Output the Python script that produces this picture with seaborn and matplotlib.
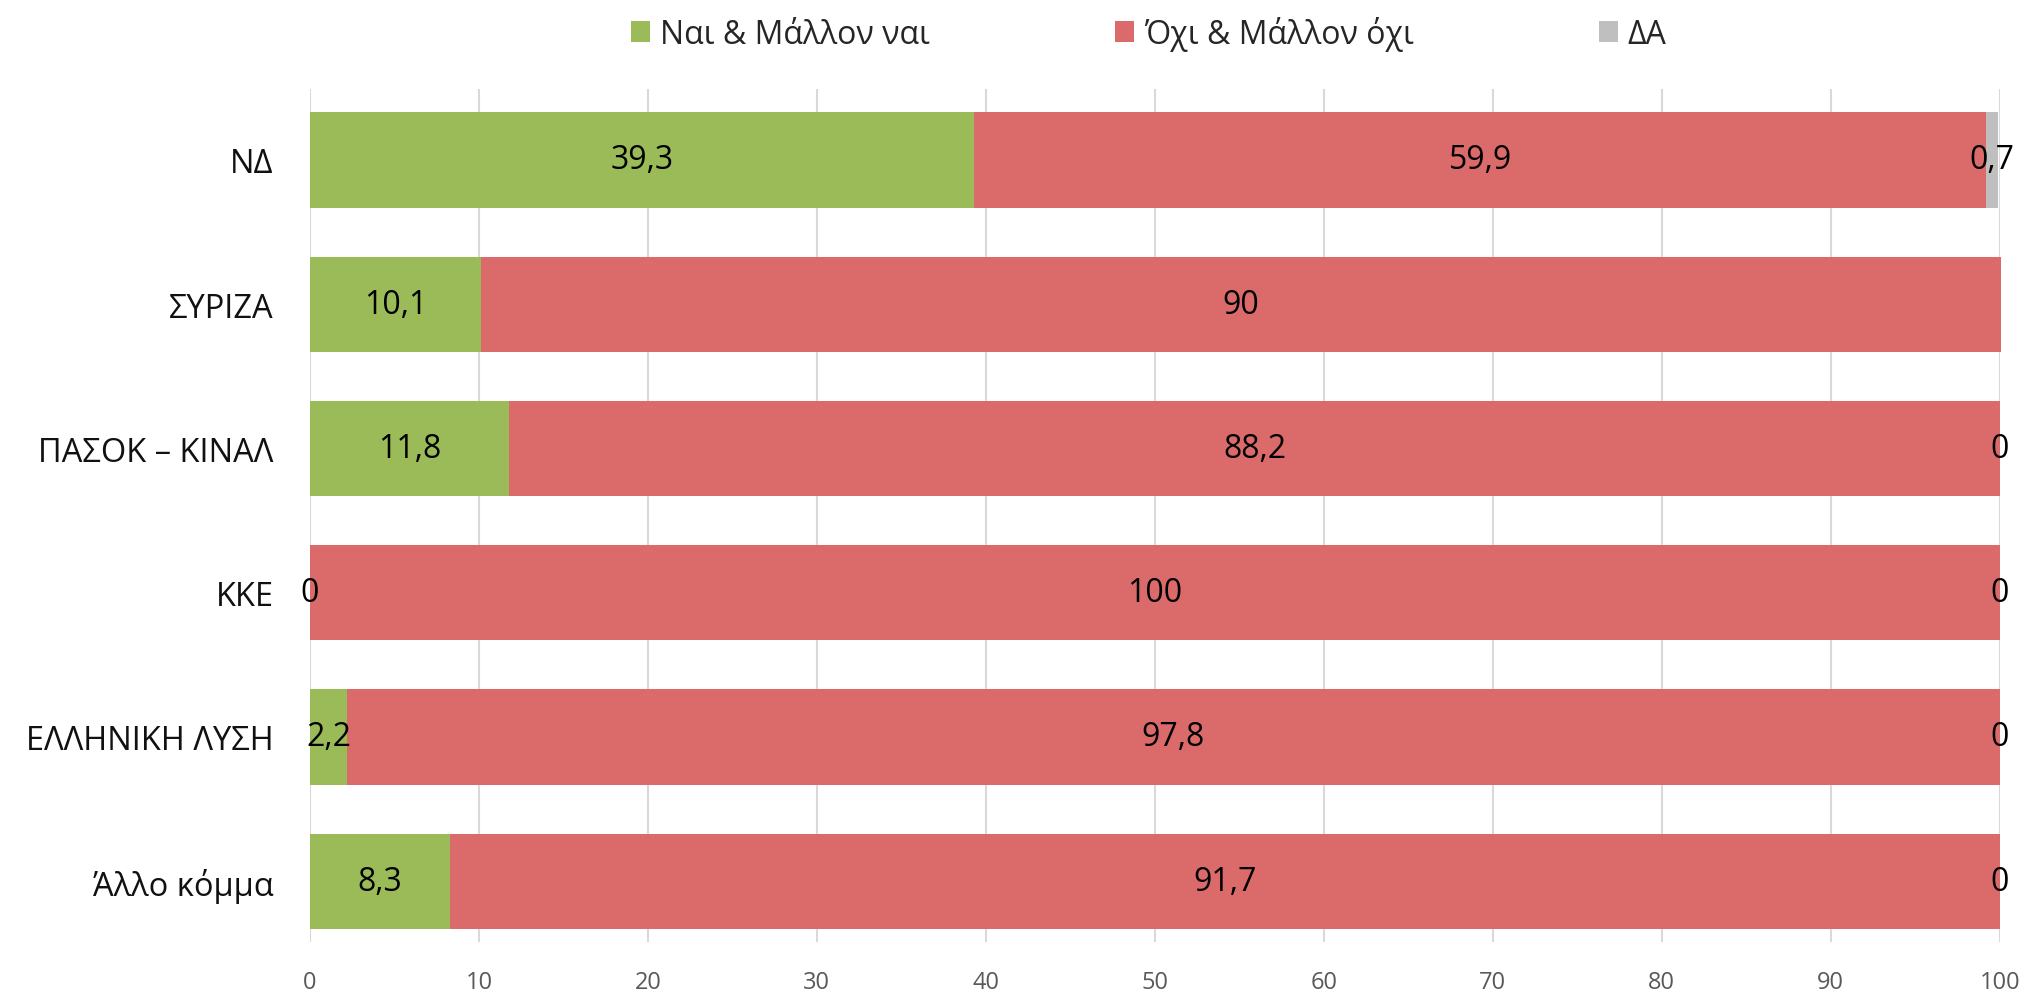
import matplotlib
matplotlib.use("Agg")
import matplotlib.pyplot as plt
import seaborn as sns
import pandas as pd
import numpy as np
from matplotlib.patches import Patch

categories = ["ΝΔ", "ΣΥΡΙΖΑ", "ΠΑΣΟΚ – ΚΙΝΑΛ", "ΚΚΕ", "ΕΛΛΗΝΙΚΗ ΛΥΣΗ", "Άλλο κόμμα"]
yes_vals = [39.3, 10.1, 11.8, 0, 2.2, 8.3]
no_vals = [59.9, 90, 88.2, 100, 97.8, 91.7]
da_vals = [0.7, np.nan, 0, 0, 0, 0]
series_names = ["Ναι & Μάλλον ναι", "Όχι & Μάλλον όχι", "ΔΑ"]
colors = ["#9BBB59", "#DA6B6A", "#BFBFBF"]
xticks = list(range(0, 101, 10))

sns.set_theme(style="white")
plt.rcParams["font.family"] = ["Open Sans", "DejaVu Sans"]

df = pd.DataFrame({"cat": categories, "yes": yes_vals, "no": no_vals, "da": da_vals})
df["c1"] = df["yes"]
df["c2"] = df["yes"] + df["no"]
df["c3"] = df["c2"] + df["da"].fillna(0)

fig = plt.figure(figsize=(20.26, 10.03), dpi=100)
ax = fig.add_axes([0.153, 0.060, 0.834, 0.850])

for col, c in [("c3", colors[2]), ("c2", colors[1]), ("c1", colors[0])]:
    sns.barplot(data=df, x=col, y="cat", orient="h", color=c, width=0.66,
                ax=ax, saturation=1, edgecolor="none", linewidth=0, zorder=2)
for p in ax.patches:
    p.set_clip_on(False)

ax.set_xlim(0, 100)
ax.set_ylim(5.42, -0.49)
ax.set_xticks(xticks)
ax.set_xticklabels([str(t) for t in xticks], fontsize=17, color="#595959")
ax.tick_params(axis="x", length=0, pad=20)
ax.tick_params(axis="y", length=0, pad=26, labelsize=23.5)
for lab in ax.get_yticklabels():
    lab.set_color("#111111")
ax.set_xlabel("")
ax.set_ylabel("")
for s in ax.spines.values():
    s.set_visible(False)
ax.grid(axis="x", color="#D9D9D9", linewidth=1.5, zorder=0)
ax.set_axisbelow(True)

def fmt(v):
    s = f"{v:g}"
    return s.replace(".", ",")

for i, row in df.iterrows():
    ax.text(row["yes"] / 2, i, fmt(row["yes"]), ha="center", va="center", fontsize=23, color="black", zorder=5)
    ax.text(row["c1"] + row["no"] / 2, i, fmt(row["no"]), ha="center", va="center", fontsize=23, color="black", zorder=5)
    if not np.isnan(row["da"]):
        ax.text(row["c2"] + row["da"] / 2, i, fmt(row["da"]), ha="center", va="center", fontsize=23, color="black", zorder=5)

handles = [Patch(facecolor=c, edgecolor="none") for c in colors]
fig.legend(handles, series_names, loc="upper center", bbox_to_anchor=(0.567, 1.012), ncol=3,
           frameon=False, fontsize=23, handlelength=0.6, handleheight=0.6,
           handletextpad=0.3, columnspacing=5.8)

fig.savefig("out.png", dpi=100)
